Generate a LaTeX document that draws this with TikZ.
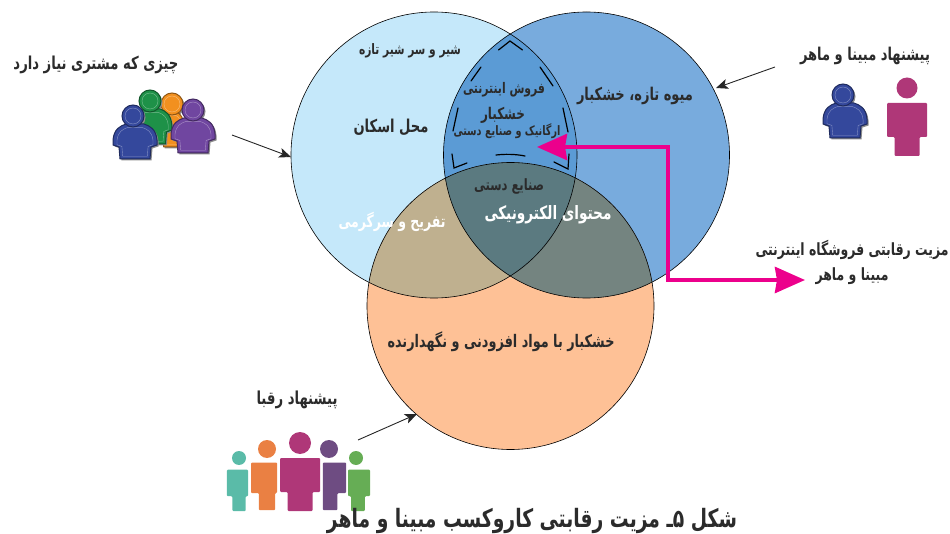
\documentclass[tikz,border=0pt]{standalone}
\usepackage{fontspec}
\usepackage{graphicx}
\usetikzlibrary{arrows.meta}
\TeXXeTstate=1
\newfontfamily\farsi[Script=Arabic]{DejaVu Sans}
\newcommand\fa[2]{\resizebox{#1pt}{!}{\scalebox{1}[1.35]{\farsi\bfseries #2}}}
\definecolor{leftblue}{HTML}{C5E8FA}
\definecolor{rightblue}{HTML}{78ABDD}
\definecolor{bottomorange}{HTML}{FEC196}
\definecolor{lensblue}{HTML}{5B9BD5}
\definecolor{lenstan}{HTML}{BFB08F}
\definecolor{lensgrey}{HTML}{748480}
\definecolor{lensmid}{HTML}{5B7A80}
\definecolor{pinkarrow}{HTML}{EC008C}
\definecolor{textgrey}{HTML}{2B2B2B}
\definecolor{manblue}{HTML}{34489C}
\definecolor{mangreen}{HTML}{1E9148}
\definecolor{manorange}{HTML}{F2901F}
\definecolor{manpurple}{HTML}{7046A0}
\definecolor{manmagenta}{HTML}{AF3778}
\definecolor{manteal}{HTML}{5ABBA8}
\definecolor{mancoral}{HTML}{EA8043}
\definecolor{mandusk}{HTML}{6E4C82}
\definecolor{manlime}{HTML}{66AD55}
\newcommand\blockman[8]{\fill[#7] (#1,#2) circle (#3pt);
\fill[#7,shift={(#4,#2)},xscale=#5,yscale=#6,rounded corners=1pt] (-20,15)--(20,15)--(20,49)--(12.5+#8,49)--(12.5+#8,68)--(-12.5+#8,68)--(-12.5+#8,49)--(-20,49)--cycle;}
\newcommand\shirtbody{(-9,8) .. controls (-15,10) and (-21,13) .. (-22,24) -- (-22,29) -- (-16,31) -- (-15,43) -- (15,43) -- (16,31) -- (22,29) -- (22,24) .. controls (21,13) and (15,10) .. (9,8) -- cycle}
\newcommand\shirtman[6]{\begin{scope}[shift={(#2,#3)}]\fill[black!45,shift={(1.5,1.5)}] (0,0) circle (11pt);\end{scope}
\begin{scope}[shift={(#1,#3)},xscale=#4]\fill[black!45,shift={(1.5,1.5)}] \shirtbody;
\filldraw[#5,draw=#6,line width=1pt] \shirtbody;
\draw[#5!60!white,line width=0.4pt,shift={(0,5)},scale=0.82] \shirtbody;
\end{scope}
\begin{scope}[shift={(#2,#3)}]\filldraw[#5,draw=#6,line width=1pt] (0,0) circle (11pt);\draw[#5!60!white,line width=0.4pt] (0,0) circle (8pt);\end{scope}}
\tikzset{
venn/.style={draw=black,line width=0.6pt},
lbl/.style={inner sep=0pt,text=textgrey},
whitelbl/.style={inner sep=0pt,text=white},
lensdash/.style={line width=1.2pt,line cap=round},
pointer/.style={-{Stealth[length=12pt,width=10pt,inset=3pt]},line width=0.9pt,draw=black!85},
pinkline/.style={line width=4pt,draw=pinkarrow,{Stealth[length=30pt,width=26pt,inset=2pt]}-{Stealth[length=30pt,width=26pt,inset=2pt]}}
}
\begin{document}
\begin{tikzpicture}[x=1pt,y=-1pt]
\useasboundingbox (0,0) rectangle (950,534);
\coordinate (cl) at (434,155);\coordinate (cr) at (586.5,155);\coordinate (cb) at (510.5,306);
\fill[leftblue] (cl) circle (143pt);
\fill[rightblue] (cr) circle (143pt);
\fill[bottomorange] (cb) circle (143.5pt);
\begin{scope}\clip (cl) circle (143pt);\fill[lensblue] (cr) circle (143pt);\fill[lenstan] (cb) circle (143.5pt);\end{scope}
\begin{scope}\clip (cr) circle (143pt);\fill[lensgrey] (cb) circle (143.5pt);\end{scope}
\begin{scope}\clip (cl) circle (143pt);\clip (cr) circle (143pt);\fill[lensmid] (cb) circle (143.5pt);\end{scope}
\draw[venn] (cl) circle (143pt);\draw[venn] (cr) circle (143pt);\draw[venn] (cb) circle (143.5pt);
\draw[lensdash] (498.5,50)--(510,41)--(522.5,50);
\draw[lensdash] (481,67)--(471,81);\draw[lensdash] (540,67)--(553,86);
\draw[lensdash] (458,108)--(453,131);\draw[lensdash] (563,108)--(568,132);
\draw[lensdash] (452,154)--(454,168)--(467,163);\draw[lensdash] (554,162)--(568,169)--(569,154);
\draw[lensdash] (496,155) .. controls (505,154) and (515,154) .. (525,156);
\coordinate (custfrom) at (232,135);\coordinate (custto) at (291,157);
\coordinate (mobfrom) at (775,67);\coordinate (mobto) at (716,88);
\coordinate (rivfrom) at (358,440);\coordinate (rivto) at (417,414);
\coordinate (pinkin) at (537,147);\coordinate (pinkcorner) at (668,147);\coordinate (pinkdown) at (668,280);\coordinate (pinkout) at (805,280);
\draw[pointer] (custfrom)--(custto);\draw[pointer] (mobfrom)--(mobto);\draw[pointer] (rivfrom)--(rivto);
\draw[pinkline] (pinkin)--(pinkcorner)--(pinkdown)--(pinkout);
\shirtman{172}{172}{104}{0.55}{manorange}{manorange!60!black}
\shirtman{152}{150}{101}{0.9}{mangreen}{mangreen!60!black}
\shirtman{135}{133}{116}{1}{manblue}{manblue!60!black}
\shirtman{193}{193}{110}{1}{manpurple}{manpurple!60!black}
\shirtman{845}{843}{95}{1}{manblue}{manblue!60!black}
\blockman{907}{88}{10.5}{907}{1}{1}{manmagenta}{0}
\blockman{239}{458}{7}{237.5}{0.53}{0.78}{manteal}{3}
\blockman{267}{449}{9}{264}{0.65}{0.9}{mancoral}{4.6}
\blockman{300}{443}{11}{300}{1}{1}{manmagenta}{0}
\blockman{329}{449}{9}{334.5}{0.58}{0.9}{mandusk}{-7.5}
\blockman{356}{458}{7}{359}{0.55}{0.78}{manlime}{-2}
\node[lbl] (custtext) at (96,65) {\fa{165}{\beginR چیزی که مشتری نیاز دارد\endR}};
\node[lbl] (milk) at (410,51) {\fa{102}{\beginR شیر و سر شیر تازه\endR}};
\node[lbl] (home) at (391,127) {\fa{75}{\beginR محل اسکان\endR}};
\node[lbl] (online) at (504,90) {\fa{82}{\beginR فروش اینترنتی\endR}};
\node[lbl] (snack) at (503,115) {\fa{44}{\beginR خشکبار\endR}};
\node[lbl] (organic) at (507,131) {\fa{107}{\beginR ارگانیک و صنایع دستی\endR}};
\node[lbl] (craft) at (509,186) {\fa{70}{\beginR صنایع دستی\endR}};
\node[lbl] (fruit) at (635,96) {\fa{116}{\beginR میوه تازه، خشکبار\endR}};
\node[whitelbl] (content) at (548,215) {\fa{127}{\beginR محتوای الکترونیکی\endR}};
\node[whitelbl] (fun) at (392,222) {\fa{107}{\beginR تفریح و سرگرمی\endR}};
\node[lbl] (additive) at (501,342) {\fa{227}{\beginR خشکبار با مواد افزودنی و نگهدارنده\endR}};
\node[lbl] (mobtext) at (865,56) {\fa{130}{\beginR پیشنهاد مبینا و ماهر\endR}};
\node[lbl] (advone) at (852,250) {\fa{193}{\beginR مزیت رقابتی فروشگاه اینترنتی\endR}};
\node[lbl] (advtwo) at (852,276) {\fa{73}{\beginR مبینا و ماهر\endR}};
\node[lbl] (rivtext) at (297,400) {\fa{81}{\beginR پیشنهاد رقبا\endR}};
\node[lbl] (caption) at (532,521) {\fa{410}{\beginR شکل ۵ـ مزیت رقابتی کاروکسب مبینا و ماهر\endR}};
\end{tikzpicture}
\end{document}
